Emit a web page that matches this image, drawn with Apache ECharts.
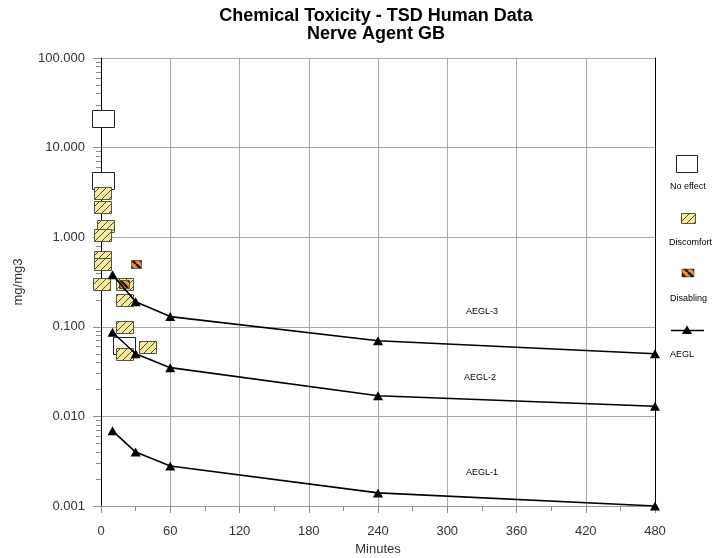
<!DOCTYPE html>
<html>
<head>
<meta charset="utf-8">
<script src="https://cdn.jsdelivr.net/npm/echarts@6.0.0/dist/echarts.min.js"></script>
<style>html,body{margin:0;padding:0;background:#fff;}#chart{width:719px;height:558px;}</style>
</head>
<body>
<div id="chart"></div>
<script>
// ---- data ----
const aeglTimes = [10, 30, 60, 240, 480];
const aegl1 = [0.0069, 0.0040, 0.0028, 0.0014, 0.0010];
const aegl2 = [0.087, 0.050, 0.035, 0.017, 0.013];
const aegl3 = [0.38, 0.19, 0.13, 0.070, 0.050];
const noEffectTimes = [2, 2, 20];
const noEffectValues = [21, 4.3, 0.062];
const discomfortTimes = [1, 1, 4, 1, 1, 1, 0, 20, 20, 20, 20, 40];
const discomfortValues = [3.1, 2.2, 1.35, 1.05, 0.6, 0.5, 0.3, 0.3, 0.2, 0.1, 0.05, 0.06];
const disablingTimes = [30, 20];
const disablingValues = [0.5, 0.3];
const yTickLabels = ['0.001', '0.010', '0.100', '1.000', '10.000', '100.000'];
const yTickValues = [0.001, 0.01, 0.1, 1, 10, 100];
const legendNames = ['No effect', 'Discomfort', 'Disabling', 'AEGL'];
const lineLabels = ['AEGL-3', 'AEGL-2', 'AEGL-1'];

const FONT = '"Liberation Sans", Arial, sans-serif';
const pair = (xs, ys) => xs.map((x, i) => [x, ys[i]]);

function hatch(bg, line, size, width, dir) {
  const c = document.createElement('canvas');
  c.width = size; c.height = size;
  const g = c.getContext('2d');
  g.fillStyle = bg; g.fillRect(0, 0, size, size);
  g.strokeStyle = line; g.lineWidth = width; g.beginPath();
  for (let o = -size; o <= size; o += size) {
    if (dir > 0) { g.moveTo(o, size); g.lineTo(o + size, 0); }
    else { g.moveTo(o, 0); g.lineTo(o + size, size); }
  }
  g.stroke();
  return c;
}
const discPattern = { image: hatch('#f7eba2', '#4a4a30', 7, 1, 1), repeat: 'repeat' };
const disabPattern = { image: hatch('#e4934a', '#2a1c10', 8, 2.6, -1), repeat: 'repeat' };

// minor log ticks
const minorLog = [];
for (let k = -3; k <= 1; k++) for (let d = 2; d <= 9; d++) minorLog.push(+(d * Math.pow(10, k)).toPrecision(3));

const chart = echarts.init(document.getElementById('chart'));
const lineSeries = (name, vals) => ({
  name, type: 'line', data: pair(aeglTimes, vals), z: 6,
  symbol: 'triangle', symbolSize: [10, 9],
  lineStyle: { color: '#000', width: 1.6 },
  itemStyle: { color: '#000' }, animation: false
});
const boxSeries = (name, xs, ys, w, h, fill, stroke, lw, z) => ({
  name, type: 'custom', z, data: pair(xs, ys), encode: { x: 0, y: 1 },
  renderItem: (params, api) => {
    const p = api.coord([api.value(0), api.value(1)]);
    return {
      type: 'rect',
      shape: { x: Math.round(p[0] - w / 2) + 0.5, y: Math.round(p[1] - h / 2) + 0.5, width: w, height: h },
      style: { fill, stroke, lineWidth: lw }
    };
  }
});

const option = {
  animation: false,
  title: {
    text: 'Chemical Toxicity - TSD Human Data\nNerve Agent GB',
    left: 371, top: 2, textAlign: 'center',
    textStyle: { fontFamily: FONT, fontSize: 18, fontWeight: 'bold', color: '#000', lineHeight: 18 }
  },
  grid: { left: 101, right: 64, top: 58, bottom: 52, containLabel: false, outerBoundsMode: 'none' },
  xAxis: {
    type: 'value', min: 0, max: 480, interval: 60,
    name: 'Minutes', nameLocation: 'middle', nameGap: 36,
    nameTextStyle: { fontFamily: FONT, fontSize: 13, color: '#333' },
    axisLine: { show: true, lineStyle: { color: '#9a9a9a', width: 1 } },
    axisTick: { show: true, length: 7, lineStyle: { color: '#8a8a8a' } },
    minorTick: { show: true, splitNumber: 2, length: 5, lineStyle: { color: '#8a8a8a' } },
    splitLine: { show: true, lineStyle: { color: '#a8a8a8', width: 1 } },
    axisLabel: { fontFamily: FONT, fontSize: 13, color: '#333', margin: 19 }
  },
  yAxis: [
    {
      type: 'log', logBase: 10, min: 0.001, max: 100,
      name: 'mg/mg3', nameLocation: 'middle', nameGap: 76, nameRotate: 90,
      nameTextStyle: { fontFamily: FONT, fontSize: 13, color: '#333' },
      axisLine: { show: true, lineStyle: { color: '#000', width: 1 } },
      axisTick: { show: true, length: 8, lineStyle: { color: '#8a8a8a' } },
      splitLine: { show: true, lineStyle: { color: '#a8a8a8', width: 1 } },
      axisLabel: {
        fontFamily: FONT, fontSize: 13, color: '#333', margin: 16,
        formatter: v => { const i = yTickValues.findIndex(t => Math.abs(Math.log10(t) - Math.log10(v)) < 1e-6); return i >= 0 ? yTickLabels[i] : ''; }
      }
    },
    {
      type: 'log', logBase: 10, min: 0.001, max: 100, position: 'left',
      axisLine: { show: false }, splitLine: { show: false }, axisLabel: { show: false },
      axisTick: { show: true, length: 5, customValues: minorLog, lineStyle: { color: '#8a8a8a' } }
    },
    {
      type: 'log', logBase: 10, min: 0.001, max: 100, position: 'right',
      axisLine: { show: true, lineStyle: { color: '#000', width: 1 } },
      splitLine: { show: false }, axisLabel: { show: false }, axisTick: { show: false }
    }
  ],
  series: [
    boxSeries(legendNames[0], noEffectTimes, noEffectValues, 22, 17, '#fff', '#222', 1, 3),
    boxSeries(legendNames[1], discomfortTimes, discomfortValues, 17, 12, discPattern, '#555540', 1, 4),
    boxSeries(legendNames[2], disablingTimes, disablingValues, 10, 8, disabPattern, '#2a1c10', 0.6, 5),
    lineSeries('AEGL-3', aegl3),
    lineSeries('AEGL-2', aegl2),
    lineSeries('AEGL-1', aegl1)
  ],
  graphic: [
    { type: 'text', left: 466, top: 307, style: { text: lineLabels[0], font: '9px ' + FONT, fill: '#000' } },
    { type: 'text', left: 464, top: 373, style: { text: lineLabels[1], font: '9px ' + FONT, fill: '#000' } },
    { type: 'text', left: 466, top: 468, style: { text: lineLabels[2], font: '9px ' + FONT, fill: '#000' } },
    // legend
    { type: 'rect', shape: { x: 676.5, y: 155.5, width: 21, height: 17 }, style: { fill: '#fff', stroke: '#222', lineWidth: 1 } },
    { type: 'text', left: 670, top: 182, style: { text: legendNames[0], font: '9px ' + FONT, fill: '#000' } },
    { type: 'rect', shape: { x: 681.5, y: 213.5, width: 14, height: 10 }, style: { fill: discPattern, stroke: '#555540', lineWidth: 1 } },
    { type: 'text', left: 669, top: 238, style: { text: legendNames[1], font: '9px ' + FONT, fill: '#000' } },
    { type: 'rect', shape: { x: 682, y: 269, width: 12, height: 8 }, style: { fill: disabPattern, stroke: '#2a1c10', lineWidth: 0.5 } },
    { type: 'text', left: 670, top: 294, style: { text: legendNames[2], font: '9px ' + FONT, fill: '#000' } },
    { type: 'line', shape: { x1: 671, y1: 330.5, x2: 704, y2: 330.5 }, style: { stroke: '#000', lineWidth: 1.6 } },
    { type: 'polygon', shape: { points: [[687, 325.5], [692, 334], [682, 334]] }, style: { fill: '#000' } },
    { type: 'text', left: 670, top: 350, style: { text: legendNames[3], font: '9px ' + FONT, fill: '#000' } }
  ]
};
chart.setOption(option);
</script>
</body>
</html>
